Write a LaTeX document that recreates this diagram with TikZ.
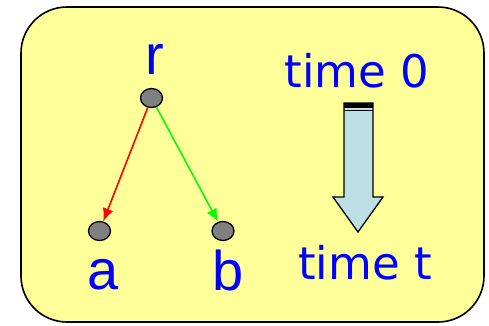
\documentclass[tikz,border=0pt]{standalone}
\usepackage{fontspec}
\setmainfont{Liberation Sans}
\newfontfamily\timefont{DejaVu Sans}
\usetikzlibrary{arrows.meta,shapes.geometric}
\definecolor{boxyellow}{HTML}{FFFF99}
\definecolor{txtblue}{HTML}{0000FF}
\definecolor{arrowblue}{HTML}{BCE0E6}
\definecolor{dotgray}{HTML}{808080}
\definecolor{edgered}{HTML}{FF0000}
\definecolor{edgegreen}{HTML}{00FF00}
\tikzset{
  dot/.style={ellipse,draw=black,line width=1.3pt,fill=dotgray,minimum width=22pt,minimum height=19pt,inner sep=0pt},
  lbl/.style={text=txtblue,font=\fontsize{56}{60}\selectfont,inner sep=0pt},
  tlbl/.style={text=txtblue,font=\timefont\fontsize{45}{50}\selectfont,inner sep=0pt,anchor=base},
  edge/.style={line width=1.6pt,-{Latex[length=13pt,width=11pt]}}
}
\begin{document}
\begin{tikzpicture}[x=1pt,y=-1pt]
\useasboundingbox (0,0) rectangle (489,325);
\draw[line width=1.6pt,fill=boxyellow,rounded corners=46pt] (21,7) rectangle (484,322);
% tree
\node[dot] (r) at (151.5,98) {};
\node[dot] (a) at (99.5,231) {};
\node[dot] (b) at (223,231) {};
\node[lbl] (rl) at (155,59) {r};
\node[lbl] (al) at (103,275) {a};
\node[lbl] (bl) at (228,270) {b};
\draw[edge,edgered] (r) -- (a);
\draw[edge,edgegreen] (r) -- (b);
% time labels
\node[tlbl] (t0) at (357,87) {time 0};
\node[tlbl] (tt) at (365,279) {time t};
% block arrow
\draw[line width=1.3pt,fill=arrowblue,line join=miter]
  (344,103) -- (373,103) -- (373,197) -- (383,197) -- (358,232) -- (333,197) -- (344,197) -- cycle;
\fill[black] (344,102.5) rectangle (373,107.5);
\draw[line width=1pt] (344,110) -- (373,110);
\end{tikzpicture}
\end{document}
